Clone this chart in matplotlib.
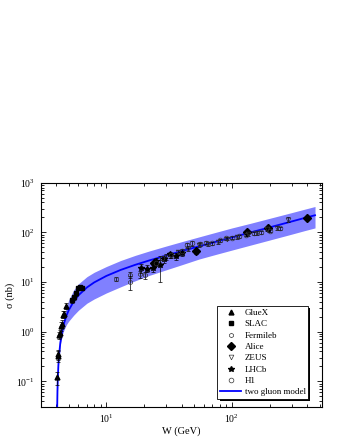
import matplotlib
matplotlib.use('Agg')
import matplotlib.pyplot as plt
from matplotlib.lines import Line2D
from matplotlib.patches import Rectangle
from matplotlib.ticker import LogLocator, NullFormatter

plt.rcParams['font.family'] = ['Liberation Serif', 'DejaVu Serif']
plt.rcParams['mathtext.fontset'] = 'custom'
plt.rcParams['mathtext.rm'] = 'Liberation Serif'
plt.rcParams['mathtext.it'] = 'Liberation Serif:italic'

# ---- two gluon model ----
model_W = [4.04, 4.06, 4.08, 4.1, 4.15, 4.2, 4.3, 4.45, 4.6, 4.8, 5.0, 5.5, 6.0, 7.0, 8.0,
           10, 13, 17, 22, 30, 40, 55, 75, 100, 140, 200, 280, 380, 460]
model_sigma = [0.0039, 0.030, 0.064, 0.102, 0.211, 0.332, 0.597, 1.025, 1.469, 2.067, 2.66,
               4.09, 5.41, 7.77, 9.81, 13.25, 17.5, 22.2, 27.2, 34.2, 42.0, 52.4, 64.9, 79.0,
               99.1, 126, 158, 195, 221]
model_upper = [0.0045, 0.0345, 0.0736, 0.117, 0.243, 0.382, 0.687, 1.33, 2.06, 3.10, 4.26,
               6.95, 9.20, 12.8, 15.7, 20.5, 27.1, 34.4, 42.2, 53.0, 65.1, 81.2, 100.6, 122.5,
               151.6, 191.5, 238.6, 292.5, 331.5]
model_lower = [0.0037, 0.0286, 0.061, 0.097, 0.196, 0.30, 0.543, 0.854, 1.088, 1.378, 1.612,
               2.153, 2.705, 3.74, 4.56, 6.02, 8.0, 10.6, 13.6, 17.6, 22.3, 29.1, 36.1, 43.9,
               55.1, 70.0, 87.8, 108.3, 122.8]

# ---- data ----
gluex_W = [4.05, 4.10, 4.14, 4.23, 4.29, 4.38, 4.45, 4.55, 4.63, 4.73]
gluex_sigma = [0.12, 0.35, 0.32, 0.85, 0.95, 1.3, 1.45, 2.2, 2.3, 3.3]
gluex_err = [0.035, 0.08, 0.08, 0.15, 0.15, 0.25, 0.25, 0.35, 0.35, 0.5]

slac_W = [5.3, 5.55, 5.7, 5.95, 6.15, 6.35]
slac_sigma = [4.3, 4.9, 5.9, 7.5, 8.1, 7.7]
slac_err = [0.5, 0.5, 0.6, 0.7, 0.7, 0.7]

fermilab_W = [12.0, 15.3, 15.3, 18.6, 20.5]
fermilab_sigma = [11.7, 10.0, 13.8, 14.3, 13.6]
fermilab_err = [1.2, 3.0, 2.0, 2.0, 2.0]

alice_W = [24, 52, 131, 195, 400]
alice_sigma = [24, 42, 100, 125, 194]
alice_err = [3, 5, 8, 10, 15]

zeus_W = [30, 37, 45, 55, 65, 78, 92, 110, 135, 160, 190, 230, 280]
zeus_sigma = [32, 40, 47, 55, 58, 65, 75, 80, 92, 98, 115, 125, 180]
zeus_err = [4, 4, 5, 5, 5, 6, 6, 7, 8, 8, 10, 12, 20]

lhcb_W = [19, 21, 23.5, 25, 27, 29, 32, 36, 40]
lhcb_sigma = [19, 18.6, 19.2, 26.8, 22, 28.6, 36, 33, 38]
lhcb_err = [4, 3, 3, 4, 12, 4, 5, 5, 5]

h1_W = [25, 28, 33, 40, 44, 48, 56, 62, 70, 80, 90, 100, 115, 130, 150, 170, 200, 240]
h1_sigma = [24, 31, 35, 42, 55, 60, 58, 62, 60, 70, 76, 78, 84, 90, 95, 100, 108, 120]
h1_err = [3, 3, 4, 4, 6, 6, 5, 5, 5, 5, 6, 6, 6, 7, 7, 8, 8, 9]

fig = plt.figure(figsize=(3.4, 4.4), dpi=100)
ax = fig.add_axes([0.1197, 0.0743, 0.8265, 0.5105])

ax.fill_between(model_W, model_lower, model_upper, color='#8080ff', lw=0, zorder=1)
ax.plot(model_W, model_sigma, color='#0000ff', lw=1.3, zorder=3)

series = [
    ('GlueX', gluex_W, gluex_sigma, gluex_err, dict(marker='^', ms=3.5, mfc='black', mec='black')),
    ('SLAC', slac_W, slac_sigma, slac_err, dict(marker='s', ms=3.2, mfc='black', mec='black')),
    ('Fermileb', fermilab_W, fermilab_sigma, fermilab_err, dict(marker='h', ms=3.2, mfc='none', mec='#333333', mew=0.5)),
    ('Alice', alice_W, alice_sigma, alice_err, dict(marker='D', ms=3.6, mfc='black', mec='black')),
    ('ZEUS', zeus_W, zeus_sigma, zeus_err, dict(marker='v', ms=3.4, mfc='none', mec='#333333', mew=0.5)),
    ('LHCb', lhcb_W, lhcb_sigma, lhcb_err, dict(marker='*', ms=4.0, mfc='black', mec='black')),
    ('H1', h1_W, h1_sigma, h1_err, dict(marker='o', ms=3.4, mfc='none', mec='#333333', mew=0.5)),
]
handles = []
for name, xs, ys, es, st in series:
    ax.errorbar(xs, ys, yerr=es, ls='none', ecolor='black', elinewidth=0.5, capsize=1.5,
                capthick=0.5, zorder=4, **st)
    handles.append(Line2D([], [], ls='none', **st))
handles.append(Line2D([], [], color='#0000ff', lw=1.3))
labels = [s[0] for s in series] + ['two gluon model']

ax.set_xscale('log')
ax.set_yscale('log')
ax.set_xlim(3.0, 520)
ax.set_ylim(0.03, 1000)

ax.xaxis.set_major_locator(LogLocator(base=10, numticks=10))
ax.yaxis.set_major_locator(LogLocator(base=10, numticks=10))
ax.xaxis.set_minor_locator(LogLocator(base=10, subs=range(2, 10), numticks=20))
ax.yaxis.set_minor_locator(LogLocator(base=10, subs=range(2, 10), numticks=20))
ax.xaxis.set_minor_formatter(NullFormatter())
ax.yaxis.set_minor_formatter(NullFormatter())
ax.tick_params(which='both', direction='in', top=True, right=True, labelsize=7, width=0.6)
ax.tick_params(which='major', length=3.5, pad=4)
ax.tick_params(which='minor', length=2)
for s in ax.spines.values():
    s.set_linewidth(0.8)

ax.set_xlabel('W (GeV)', fontsize=7.5, labelpad=1)
ax.set_ylabel('\u03c3 (nb)', fontsize=7.5, labelpad=1)

leg = ax.legend(handles, labels, loc='lower right',
                bbox_to_anchor=(0.952, 0.037), fontsize=6.5, frameon=True, fancybox=False,
                edgecolor='black', framealpha=1, labelspacing=0.33, handlelength=2.3,
                handletextpad=0.4, borderpad=0.3, borderaxespad=0.0)
leg.get_frame().set_linewidth(0.6)
leg.set_zorder(6)

# thin black drop shadow on the legend box
fig.canvas.draw()
bb = leg.get_window_extent().transformed(ax.transAxes.inverted())
px_x = 2.2 / (ax.get_window_extent().width)
px_y = 2.2 / (ax.get_window_extent().height)
ax.add_patch(Rectangle((bb.x0 + px_x, bb.y0 - px_y), bb.width, bb.height,
                       transform=ax.transAxes, facecolor='black', edgecolor='none',
                       zorder=5.5, clip_on=False))

fig.savefig('out.png', dpi=100)
